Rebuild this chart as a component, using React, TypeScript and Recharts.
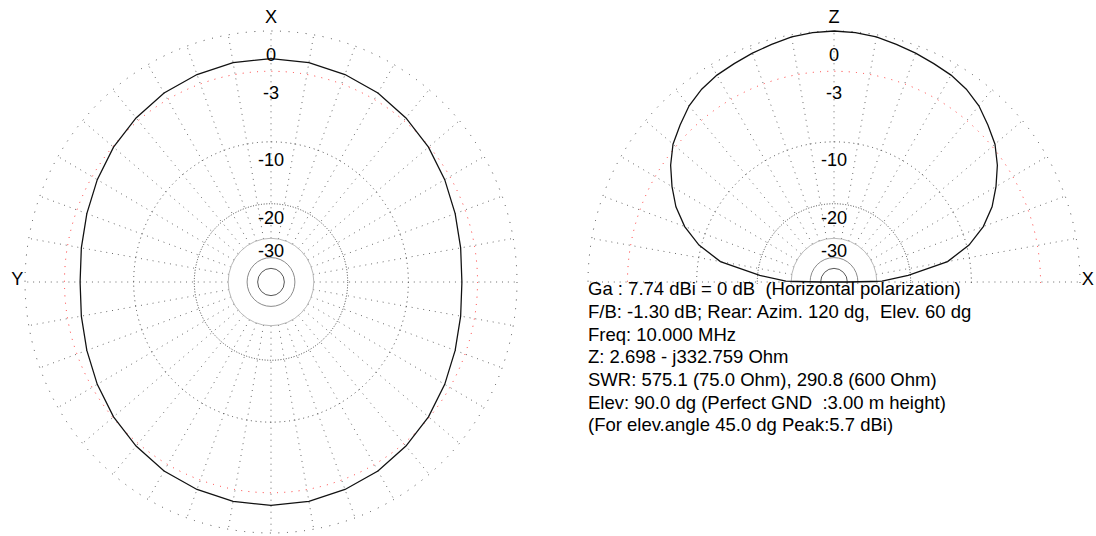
import React from 'react';
import { RadarChart, Radar, PolarGrid, PolarAngleAxis, PolarRadiusAxis } from 'recharts';

// horizontal pattern: azimuth from X (0) towards Y (90), dB relative to 7.74 dBi
const azAngles = [0, 10, 20, 30, 40, 50, 60, 70, 80, 90, 100, 110, 120, 130, 140, 150, 160, 170,
  180, 190, 200, 210, 220, 230, 240, 250, 260, 270, 280, 290, 300, 310, 320, 330, 340, 350];
const azDb = [-2.0, -2.05, -2.2, -2.4, -2.72, -3.08, -3.5, -3.9, -4.2, -4.35, -4.2, -3.9, -3.5, -3.08, -2.72, -2.4, -2.2, -2.05,
  -2.0, -2.05, -2.2, -2.4, -2.72, -3.08, -3.5, -3.9, -4.2, -4.35, -4.2, -3.9, -3.5, -3.08, -2.72, -2.4, -2.2, -2.05];

// vertical pattern: elevation from X (0) over Z (90) to -X (180)
const elevAngles = [0, 1, 5, 10, 15, 20, 25, 30, 35, 40, 45, 50, 55, 60, 65, 70, 75, 80, 85, 90,
  95, 100, 105, 110, 115, 120, 125, 130, 135, 140, 145, 150, 155, 160, 165, 170, 175, 179, 180];
const elevDb = [-50, -28, -20.5, -13, -9.7, -7.5, -5.9, -4.7, -3.6, -2.7, -2.1, -1.5, -1.1, -0.85, -0.7, -0.52, -0.35, -0.15, -0.04, 0,
  -0.04, -0.15, -0.35, -0.52, -0.7, -0.85, -1.1, -1.5, -2.1, -2.7, -3.6, -4.7, -5.9, -7.5, -9.7, -13, -20.5, -28, -50];

const ringDb = [0, -3, -10, -20, -30];
const ringLabels = ['0', '-3', '-10', '-20', '-30'];
const innerRingDb = [-40, -50];

const azAxisTicks = [0, 90];
const azAxisNames = ['X', 'Y'];
const elAxisTicks = [0, 90];
const elAxisNames = ['X', 'Z'];

const infoLines = [
  'Ga : 7.74 dBi = 0 dB  (Horizontal polarization)',
  'F/B: -1.30 dB; Rear: Azim. 120 dg,  Elev. 60 dg',
  'Freq: 10.000 MHz',
  'Z: 2.698 - j332.759 Ohm',
  'SWR: 575.1 (75.0 Ohm), 290.8 (600 Ohm)',
  'Elev: 90.0 dg (Perfect GND  :3.00 m height)',
  '(For elev.angle 45.0 dg Peak:5.7 dBi)',
];

const FONT = '"Liberation Sans", Arial, sans-serif';
const W = 1096;
const H = 536;
const CHART_W = 1140; // a bit wider than the page, the x squeeze pulls it back
const R = 251;
const CY = 282;
const AZ_CX = 271;
const EL_CX = 834;
const SQUEEZE = 0.98; // plots are a little narrower than tall
const NO_MARGIN = { top: 0, right: 0, bottom: 0, left: 0 };

// ARRL log scale: every 2 dB is a factor 0.89 on the radius
const arrl = (db: number) => Math.pow(0.89, -db / 2);
const ringR = (db: number) => R * arrl(db);

const azData = azAngles.map((angle, i) => ({ angle, db: azDb[i] }));
const elevData = elevAngles.map((angle, i) => ({ angle, db: elevDb[i] }));

const spokes = (from: number, to: number) => {
  const out: number[] = [];
  for (let a = from; a <= to; a += 10) out.push(a);
  return out;
};

const RingTick = (p: any) => {
  const v = p.payload?.value;
  const k = ringDb.findIndex((db) => Math.abs(arrl(db) - v) < 1e-6);
  if (k < 0) return <g />;
  const r = CY - p.y;
  return (
    <text x={p.x} y={p.y + 9.5 + 0.055 * r} dy="0.35em" textAnchor="middle" fontFamily={FONT} fontSize={18.5} fill="#000">
      {ringLabels[k]}
    </text>
  );
};

const axisTick = (ticks: number[], names: string[]) => (p: any) => {
  const k = ticks.indexOf(p.payload?.value);
  if (k < 0) return <g />;
  const top = p.y < CY - 100;
  return (
    <text x={p.x} y={top ? p.y - 6 : p.y - 3} dy="0.35em" textAnchor="middle" fontFamily={FONT} fontSize={18.5} fill="#000">
      {names[k]}
    </text>
  );
};

const layer: React.CSSProperties = { position: 'absolute', left: 0, top: 0 };

const ringGrids = () => [
  ...ringDb.map((db) => {
    const r = ringR(db);
    const red = db === -3;
    const solid = db === -30;
    return (
      <PolarGrid
        key={'ring' + db}
        gridType="circle"
        radialLines={false}
        polarRadius={[r]}
        stroke={red ? '#ff3030' : solid ? '#b8b8b8' : '#444'}
        strokeDasharray={solid ? undefined : `1 ${(r * Math.PI) / 90 - 1}`}
      />
    );
  }),
  ...innerRingDb.map((db, i) => (
    <PolarGrid key={'inner' + db} gridType="circle" radialLines={false} polarRadius={[ringR(db)]} stroke={i === 0 ? '#8a8a8a' : '#555'} />
  )),
];

const PolarPlot = ({ cx, data, startAngle, endAngle, maxAngle, ticks, names, spokeTo, baseline, clipH }: any) => {
  const common = { width: CHART_W, height: H, data, cx, cy: CY, startAngle, endAngle, margin: NO_MARGIN };
  return (
    <div style={{ ...layer, width: CHART_W, height: H, transform: `scaleX(${SQUEEZE})`, transformOrigin: `${cx}px ${CY}px` }}>
      <div style={{ ...layer, width: CHART_W, height: clipH, overflow: 'hidden' }}>
        <div style={layer}>
          <RadarChart {...common} innerRadius={ringR(-30)} outerRadius={R}>
            <PolarGrid gridType="circle" polarAngles={spokes(0, spokeTo)} polarRadius={[]} stroke="#666" strokeDasharray="1 5" />
          </RadarChart>
        </div>
        {baseline && (
          <div style={layer}>
            <RadarChart {...common} innerRadius={0} outerRadius={ringR(-30)}>
              <PolarGrid gridType="circle" polarAngles={[0, 180]} polarRadius={[]} stroke="#8a8a8a" />
            </RadarChart>
          </div>
        )}
        <div style={layer}>
          <RadarChart {...common} innerRadius={0} outerRadius={R}>
            {ringGrids()}
            <PolarAngleAxis dataKey="angle" type="number" domain={[0, maxAngle]} tick={false} axisLine={false} tickLine={false} />
            <PolarRadiusAxis angle={90} type="number" domain={[0, 1]} allowDataOverflow tick={false} axisLine={false} tickLine={false} />
            <Radar dataKey={(d: any) => arrl(d.db)} stroke="#111" strokeWidth={1.3} fill="none" fillOpacity={0}
              dot={false} isAnimationActive={false} />
          </RadarChart>
        </div>
      </div>
      <div style={layer}>
        <RadarChart {...common} innerRadius={0} outerRadius={R}>
          <PolarAngleAxis dataKey="angle" type="number" domain={[0, maxAngle]} ticks={ticks}
            tick={axisTick(ticks, names)} axisLine={false} tickLine={false} />
          <PolarRadiusAxis angle={90} type="number" domain={[0, 1]} allowDataOverflow ticks={ringDb.map(arrl)}
            tick={RingTick} axisLine={false} tickLine={false} />
        </RadarChart>
      </div>
    </div>
  );
};

export default function App() {
  return (
    <div style={{ position: 'absolute', left: 0, top: 0, width: W, height: H, background: '#fff', overflow: 'hidden' }}>
      <PolarPlot cx={AZ_CX} data={azData} startAngle={90} endAngle={450} maxAngle={360}
        ticks={azAxisTicks} names={azAxisNames} spokeTo={350} baseline={false} clipH={H} />
      <PolarPlot cx={EL_CX} data={elevData} startAngle={0} endAngle={180} maxAngle={180}
        ticks={elAxisTicks} names={elAxisNames} spokeTo={180} baseline clipH={284} />
      <div style={{ position: 'absolute', left: 588, top: 278.3, fontFamily: FONT, fontSize: 18.5, lineHeight: '22.67px', whiteSpace: 'pre', color: '#000' }}>
        {infoLines.map((t) => (
          <div key={t}>{t}</div>
        ))}
      </div>
    </div>
  );
}
